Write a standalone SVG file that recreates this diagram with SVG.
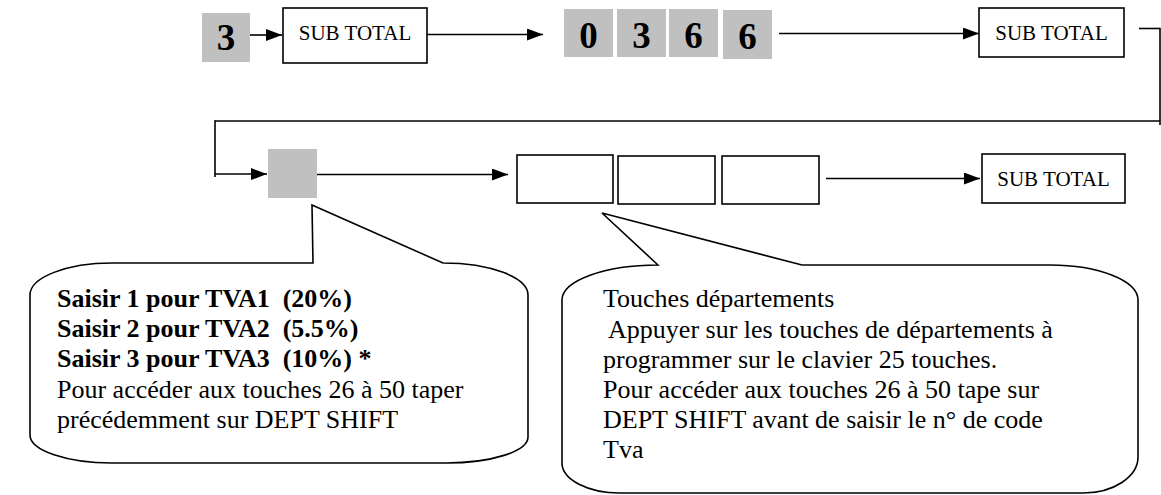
<svg xmlns="http://www.w3.org/2000/svg" width="1161" height="495" viewBox="0 0 1161 495">
<defs>
<style>
.box{fill:#fff;stroke:#000;stroke-width:1.6}
.key{fill:#c0c0c0;stroke:none}
.ln{stroke:#000;stroke-width:1.6;fill:none}
.bub{fill:#fff;stroke:#000;stroke-width:1.6;stroke-linejoin:miter}
.st{font-family:"Liberation Serif","Times New Roman",serif;font-size:21px;text-anchor:middle;fill:#000}
.dig{font-family:"Liberation Serif","Times New Roman",serif;font-size:37px;font-weight:bold;text-anchor:middle;fill:#000}
.tx{font-family:"Liberation Serif","Times New Roman",serif;font-size:26px;fill:#000}
.b{font-weight:bold}
</style>
<marker id="ah" viewBox="0 0 16 12" refX="16" refY="6" markerWidth="16" markerHeight="12" markerUnits="userSpaceOnUse" orient="auto">
<path d="M0,0 L16,6 L0,12 Z" fill="#000"/>
</marker>
</defs>
<rect width="1161" height="495" fill="#fff"/>

<g id="connectors">
<line class="ln" x1="250" y1="35" x2="282" y2="35" marker-end="url(#ah)"/>
<line class="ln" x1="427" y1="34.5" x2="543" y2="34.5" marker-end="url(#ah)"/>
<line class="ln" x1="779" y1="33.5" x2="979" y2="33.5" marker-end="url(#ah)"/>
<line class="ln" x1="1139" y1="28.5" x2="1160" y2="28.5"/>
<line class="ln" x1="1160" y1="27.7" x2="1160" y2="125"/>
<line class="ln" x1="215" y1="121" x2="1160" y2="121"/>
<line class="ln" x1="215" y1="120.2" x2="215" y2="177"/>
<line class="ln" x1="215" y1="174" x2="267" y2="174" marker-end="url(#ah)"/>
<line class="ln" x1="317" y1="174.5" x2="508" y2="174.5" marker-end="url(#ah)"/>
<line class="ln" x1="826" y1="178.5" x2="980" y2="178.5" marker-end="url(#ah)"/>
</g>

<g id="key-3">
<rect class="key" x="202" y="13" width="48" height="49"/>
<text class="dig" x="226" y="49.5">3</text>
</g>
<g id="subtotal-1">
<rect class="box" x="283" y="8" width="144" height="55"/>
<text class="st" x="355" y="40">SUB TOTAL</text>
</g>
<g id="key-0">
<rect class="key" x="564" y="9" width="49" height="48"/>
<text class="dig" x="588.5" y="48">0</text>
</g>
<g id="key-3b">
<rect class="key" x="617" y="9" width="49" height="48"/>
<text class="dig" x="641.5" y="48">3</text>
</g>
<g id="key-6a">
<rect class="key" x="669" y="9" width="49" height="48"/>
<text class="dig" x="693.5" y="48">6</text>
</g>
<g id="key-6b">
<rect class="key" x="723" y="10" width="49" height="49"/>
<text class="dig" x="747.5" y="48.5">6</text>
</g>
<g id="subtotal-2">
<rect class="box" x="979" y="8" width="145" height="49"/>
<text class="st" x="1051.5" y="40">SUB TOTAL</text>
</g>
<g id="key-tva">
<rect class="key" x="268" y="149" width="49" height="49"/>
</g>
<g id="dept-1">
<rect class="box" x="517" y="155" width="96" height="48"/>
</g>
<g id="dept-2">
<rect class="box" x="618" y="156" width="97" height="48"/>
</g>
<g id="dept-3">
<rect class="box" x="722" y="156" width="97" height="48"/>
</g>
<g id="subtotal-3">
<rect class="box" x="982" y="154" width="143" height="49"/>
<text class="st" x="1053.5" y="186">SUB TOTAL</text>
</g>

<g id="callout-tva">
<path class="bub" d="M313,263 L312,205 L443,263 A85,32 0 0 1 528,295 L528,437 A82,26 0 0 1 446,463 L112,463 A82,28 0 0 1 30,435 L30,295 A82,32 0 0 1 112,263 Z"/>
<text class="tx b" x="57" y="307" xml:space="preserve">Saisir 1 pour TVA1  (20%)</text>
<text class="tx b" x="57" y="337" xml:space="preserve">Saisir 2 pour TVA2  (5.5%)</text>
<text class="tx b" x="57" y="367" xml:space="preserve">Saisir 3 pour TVA3  (10%) *</text>
<text class="tx" x="57" y="398">Pour accéder aux touches 26 à 50 taper</text>
<text class="tx" x="57" y="428">précédemment sur DEPT SHIFT</text>
</g>

<g id="callout-dept">
<path class="bub" d="M658,265 L602,213 L802,265 L1050,265 A88,35 0 0 1 1138,300 L1138,457 A55,36 0 0 1 1083,493 L620,493 A58,30 0 0 1 562,463 L562,300 A96,35 0 0 1 658,265 Z"/>
<text class="tx" x="603" y="307">Touches départements</text>
<text class="tx" x="603" y="337.5" xml:space="preserve"> Appuyer sur les touches de départements à</text>
<text class="tx" x="603" y="368">programmer sur le clavier 25 touches.</text>
<text class="tx" x="603" y="398">Pour accéder aux touches 26 à 50 tape sur</text>
<text class="tx" x="603" y="428">DEPT SHIFT avant de saisir le n° de code</text>
<text class="tx" x="603" y="458">Tva</text>
</g>
</svg>
